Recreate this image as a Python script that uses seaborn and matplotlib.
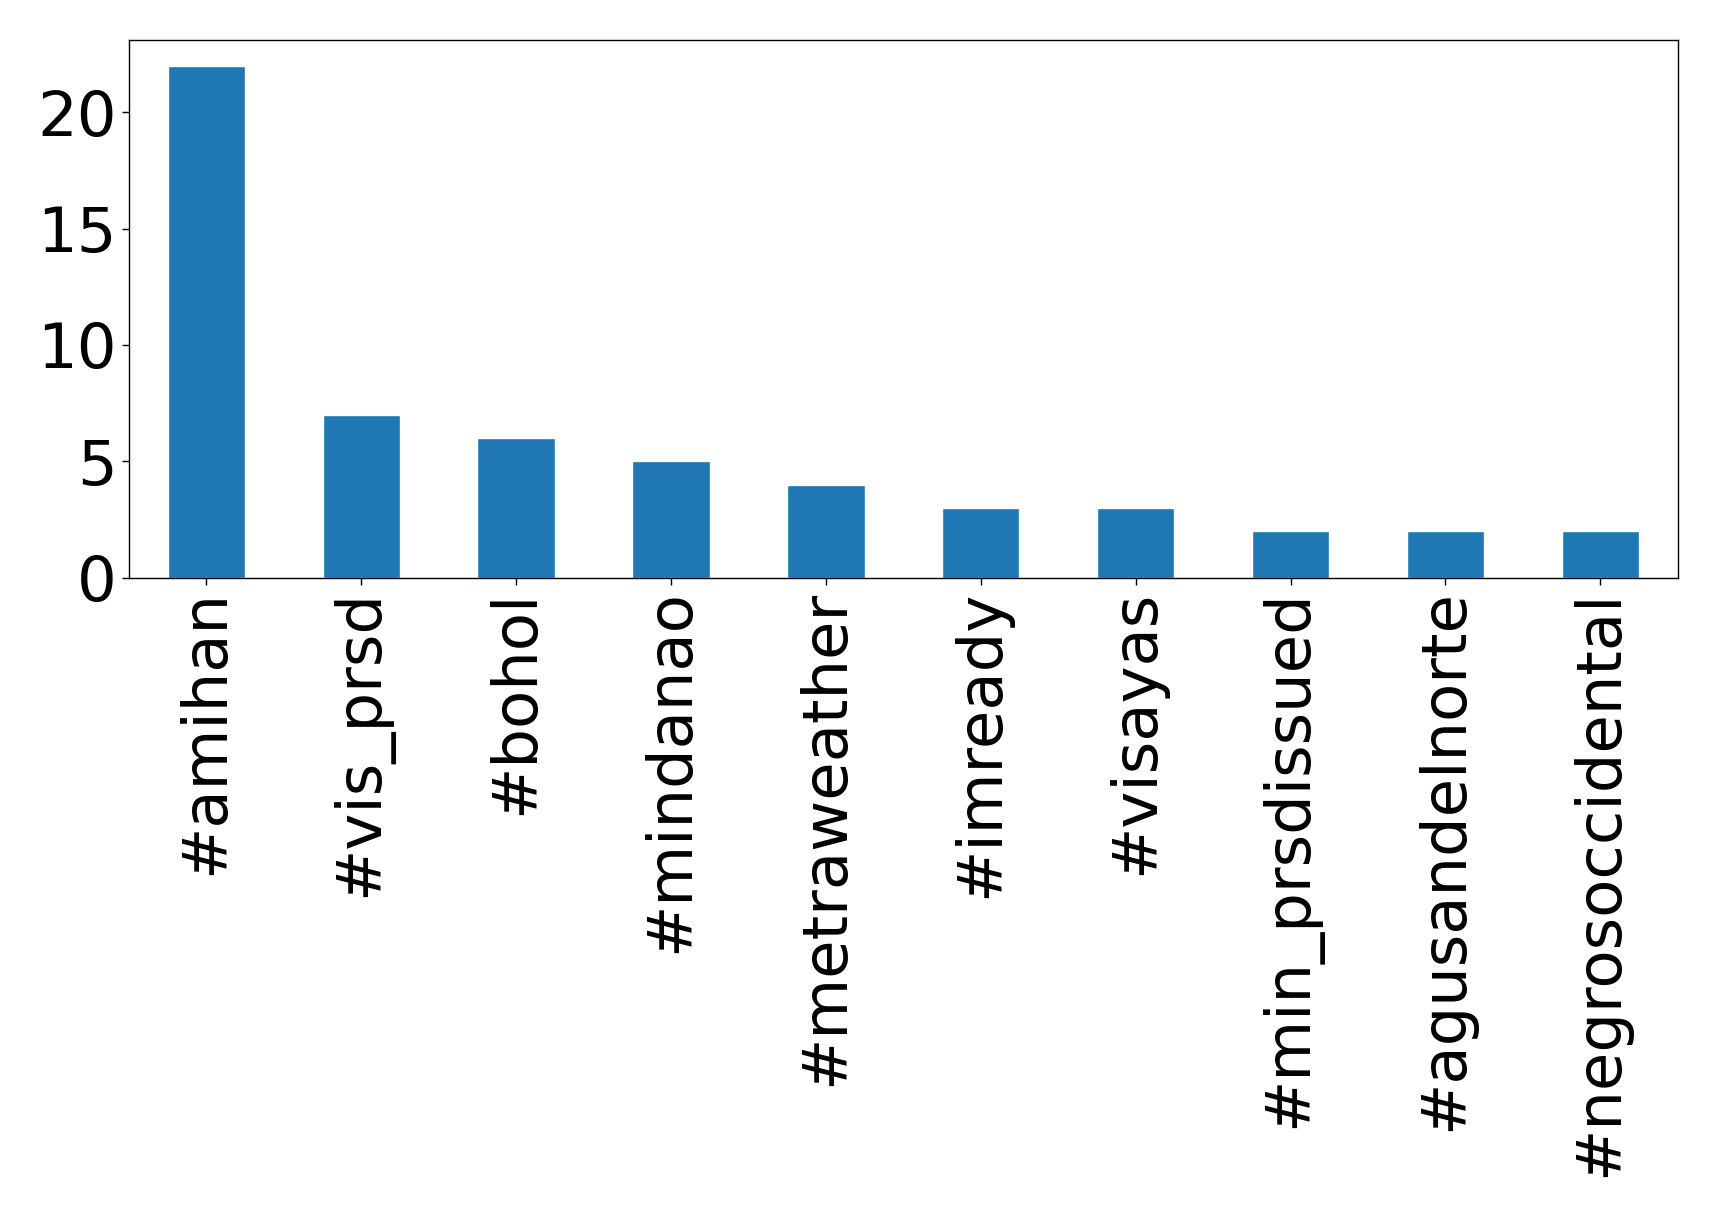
import pandas as pd
import seaborn as sns
import matplotlib.pyplot as plt

hashtags = ['#amihan', '#vis_prsd', '#bohol', '#mindanao', '#metraweather',
            '#imready', '#visayas', '#min_prsdissued', '#agusandelnorte',
            '#negrosoccidental']
counts = [22, 7, 6, 5, 4, 3, 3, 2, 2, 2]

df = pd.DataFrame({'hashtag': hashtags, 'count': counts})

sns.set_style('white')
fig, ax = plt.subplots(figsize=(17.19, 12.16), dpi=100)
fig.subplots_adjust(left=0.075, right=0.976, top=0.967, bottom=0.525)

sns.barplot(data=df, x='hashtag', y='count', color='#1f77b4', saturation=1,
            width=0.5, ax=ax)

ax.set_xlim(-0.5, len(hashtags) - 0.5)
ax.set_ylim(0, max(counts) * 1.05)
ax.set_yticks([0, 5, 10, 15, 20])
ax.set_xlabel('')
ax.set_ylabel('')
ax.tick_params(axis='both', labelsize=45, length=5, width=1, bottom=True, left=True,
               colors='black', labelcolor='black')
plt.setp(ax.get_xticklabels(), rotation=90)
for s in ax.spines.values():
    s.set_visible(True)
    s.set_color('black')
    s.set_linewidth(1)

fig.savefig('out.png', dpi=100)
